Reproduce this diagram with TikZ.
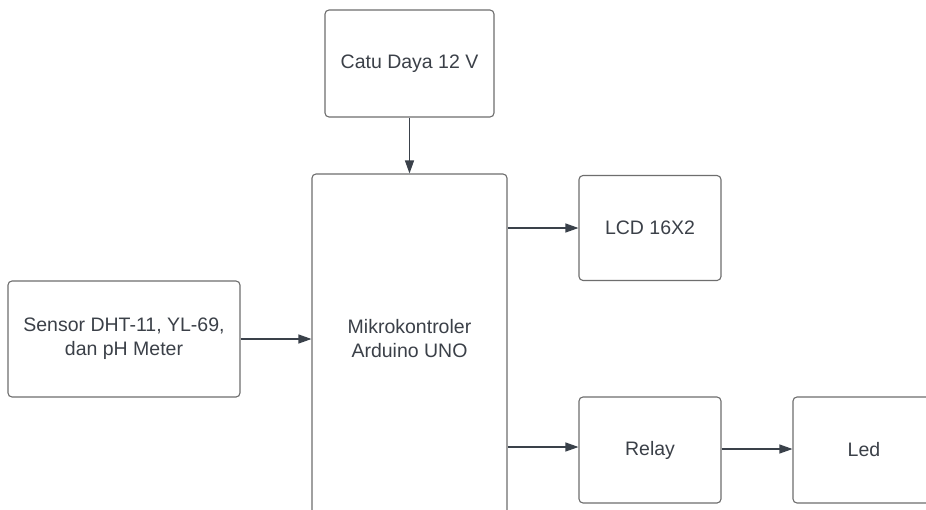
\documentclass[tikz,border=0pt]{standalone}
\usepackage{fontspec}
\setmainfont{Liberation Sans}
\usetikzlibrary{arrows.meta}
\definecolor{boxline}{HTML}{6E6E6E}
\definecolor{txt}{HTML}{3B4048}
\definecolor{arr}{HTML}{3A414A}
\tikzset{
  blk/.style={draw=boxline, line width=1.1pt, rounded corners=4pt, fill=white,
    inner sep=0pt, align=center, text=txt,
    font=\fontsize{19.5}{24}\selectfont},
  lbl/.style={inner sep=0pt, align=center, text=txt, font=\fontsize{19.5}{24}\selectfont},
  conn/.style={draw=arr, line width=1.1pt, -{Triangle[length=13pt,width=9pt]}}
}
\begin{document}
\begin{tikzpicture}[x=1pt,y=-1pt]
\useasboundingbox (0,0) rectangle (926,509);
\clip (0,0) rectangle (926,509);
\fill[white] (0,0) rectangle (926,509);
\node[blk, minimum width=169pt, minimum height=107pt] (catu) at (409.5,63.5) {Catu Daya 12 V};
\node[blk, minimum width=195pt, minimum height=366pt] (mcu) at (409.5,357) {};
\node[lbl] (mcutext) at (409.5,339) {Mikrokontroler\\Arduino UNO};
\node[blk, minimum width=142pt, minimum height=105pt] (lcd) at (650,228) {LCD 16X2};
\node[blk, minimum width=232pt, minimum height=116pt] (sensor) at (124,339) {Sensor DHT-11, YL-69,\\dan pH Meter};
\node[blk, minimum width=142pt, minimum height=106pt] (relay) at (650,450) {Relay};
\node[blk, minimum width=142pt, minimum height=106pt] (led) at (864,450) {Led};
\draw[conn] (catu.south) -- (mcu.north);
\draw[conn] (sensor.east) -- (sensor.east -| mcu.west);
\draw[conn] (mcu.east |- lcd.west) -- (lcd.west);
\draw[conn] ([yshift=3pt]mcu.east |- relay.west) -- ([yshift=3pt]relay.west);
\draw[conn] ([yshift=1pt]relay.east) -- ([yshift=1pt]led.west);
\end{tikzpicture}
\end{document}
